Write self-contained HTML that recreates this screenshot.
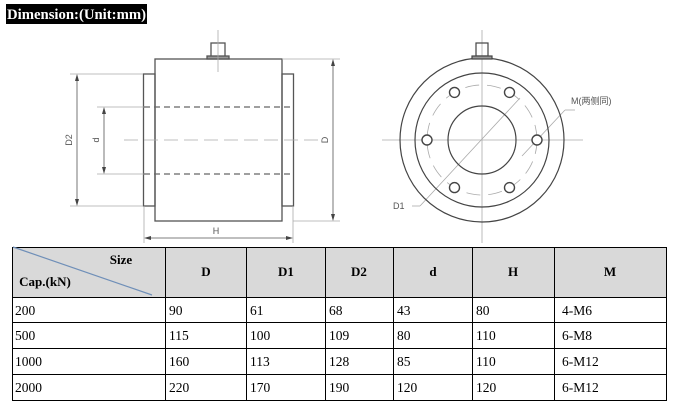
<!DOCTYPE html>
<html><head><meta charset="utf-8"><style>
html,body{margin:0;padding:0;background:#fff;}
svg{display:block;}
text{font-family:"Liberation Serif",serif;}
.s{font-family:"Liberation Sans","Noto Sans CJK SC",sans-serif;fill:#555;font-size:9px;}
</style></head><body>
<svg width="673" height="408" viewBox="0 0 673 408" xmlns="http://www.w3.org/2000/svg">
<rect x="6" y="4" width="141" height="20" fill="#000"/>
<text x="7" y="19" font-size="15" font-weight="bold" fill="#fff" textLength="139" lengthAdjust="spacingAndGlyphs">Dimension:(Unit:mm)</text>

<g fill="none" stroke="#555" stroke-width="1.3">
<rect x="155" y="59" width="127" height="162"/>
<rect x="143.5" y="74" width="11.5" height="132"/>
<rect x="282" y="74" width="11.5" height="132"/>
<rect x="211" y="43" width="14" height="14"/>
<rect x="207" y="56" width="22" height="3" fill="#999"/>
</g>
<g stroke="#666" stroke-width="1.2" stroke-dasharray="6,4">
<line x1="144" y1="107" x2="293" y2="107"/>
<line x1="144" y1="174" x2="293" y2="174"/>
</g>
<g stroke="#aaa" stroke-width="0.8" fill="none">
<line x1="124" y1="140" x2="320" y2="140" stroke-dasharray="14,6"/>
<line x1="218" y1="30" x2="218" y2="72"/>
<line x1="70" y1="74" x2="143" y2="74"/>
<line x1="70" y1="206" x2="143" y2="206"/>
<line x1="97" y1="107" x2="144" y2="107"/>
<line x1="97" y1="174" x2="144" y2="174"/>
<line x1="282" y1="59" x2="340" y2="59"/>
<line x1="293" y1="221" x2="340" y2="221"/>
<line x1="144" y1="206" x2="144" y2="243"/>
<line x1="293" y1="206" x2="293" y2="243"/>
</g>
<g stroke="#555" stroke-width="0.8">
<line x1="77" y1="76" x2="77" y2="204"/>
<line x1="104" y1="109" x2="104" y2="172"/>
<line x1="333" y1="61" x2="333" y2="219"/>
<line x1="146" y1="238" x2="291" y2="238"/>
</g>
<g fill="#444">
<polygon points="77,74 75,81 79,81"/><polygon points="77,206 75,199 79,199"/>
<polygon points="104,107 102,114 106,114"/><polygon points="104,174 102,167 106,167"/>
<polygon points="333,59 331,66 335,66"/><polygon points="333,221 331,214 335,214"/>
<polygon points="144,238 151,236 151,240"/><polygon points="293,238 286,236 286,240"/>
</g>
<text class="s" transform="translate(72,140) rotate(-90)" text-anchor="middle">D2</text>
<text class="s" transform="translate(99,140) rotate(-90)" text-anchor="middle">d</text>
<text class="s" transform="translate(328,140) rotate(-90)" text-anchor="middle">D</text>
<text class="s" x="216" y="234" text-anchor="middle">H</text>

<g stroke="#aaa" stroke-width="0.8" fill="none">
<line x1="382" y1="140" x2="583" y2="140"/>
<line x1="482" y1="30" x2="482" y2="243"/>
<circle cx="482" cy="140" r="55" stroke-dasharray="14,8"/>
<line x1="412" y1="206" x2="420" y2="206"/>
<line x1="420" y1="206" x2="520" y2="98"/>
<line x1="522" y1="156" x2="565" y2="110"/>
<line x1="565" y1="110" x2="575" y2="110"/>
</g>
<g stroke="#444" stroke-width="1.2" fill="none">
<circle cx="482" cy="140" r="82"/>
<circle cx="482" cy="140" r="67"/>
<circle cx="482" cy="140" r="34"/>
<rect x="476" y="43" width="12" height="13"/>
<rect x="472" y="56" width="20" height="3" fill="#999"/>
</g>
<g stroke="#444" stroke-width="1.4" fill="#fff">
<circle cx="427" cy="140" r="5"/><circle cx="537" cy="140" r="5"/>
<circle cx="454.5" cy="92.4" r="5"/><circle cx="509.5" cy="92.4" r="5"/>
<circle cx="454.5" cy="187.6" r="5"/><circle cx="509.5" cy="187.6" r="5"/>
</g>
<text class="s" x="571" y="104">M(两侧同)</text>
<text class="s" x="393" y="209">D1</text>

<rect x="12" y="247" width="655" height="50" fill="#d9d9d9"/>
<g stroke="#000" stroke-width="1" fill="none">
<rect x="12.5" y="247.5" width="654" height="153"/>
<line x1="12" y1="297.5" x2="667" y2="297.5"/>
<line x1="12" y1="322.5" x2="667" y2="322.5"/>
<line x1="12" y1="348.5" x2="667" y2="348.5"/>
<line x1="12" y1="374.5" x2="667" y2="374.5"/>
<line x1="165.5" y1="247" x2="165.5" y2="401"/>
<line x1="246.5" y1="247" x2="246.5" y2="401"/>
<line x1="325.5" y1="247" x2="325.5" y2="401"/>
<line x1="393.5" y1="247" x2="393.5" y2="401"/>
<line x1="472.5" y1="247" x2="472.5" y2="401"/>
<line x1="554.5" y1="247" x2="554.5" y2="401"/>
</g>
<line x1="13" y1="247" x2="152" y2="295" stroke="#6f8fb8" stroke-width="1.2"/>
<g font-size="13" font-weight="bold" text-anchor="middle">
<text x="121" y="264">Size</text>
<text x="45" y="286">Cap.(kN)</text>
<text x="206" y="276">D</text>
<text x="286" y="276">D1</text>
<text x="359" y="276">D2</text>
<text x="433" y="276">d</text>
<text x="513" y="276">H</text>
<text x="610" y="276">M</text>
</g>
<g font-size="13.5">
<text x="15" y="315">200</text><text x="169" y="315">90</text><text x="250" y="315">61</text><text x="329" y="315">68</text><text x="397" y="315">43</text><text x="476" y="315">80</text><text x="562" y="315">4-M6</text>
<text x="15" y="340">500</text><text x="169" y="340">115</text><text x="250" y="340">100</text><text x="329" y="340">109</text><text x="397" y="340">80</text><text x="476" y="340">110</text><text x="562" y="340">6-M8</text>
<text x="15" y="366">1000</text><text x="169" y="366">160</text><text x="250" y="366">113</text><text x="329" y="366">128</text><text x="397" y="366">85</text><text x="476" y="366">110</text><text x="562" y="366">6-M12</text>
<text x="15" y="392">2000</text><text x="169" y="392">220</text><text x="250" y="392">170</text><text x="329" y="392">190</text><text x="397" y="392">120</text><text x="476" y="392">120</text><text x="562" y="392">6-M12</text>
</g>
</svg>
</body></html>
